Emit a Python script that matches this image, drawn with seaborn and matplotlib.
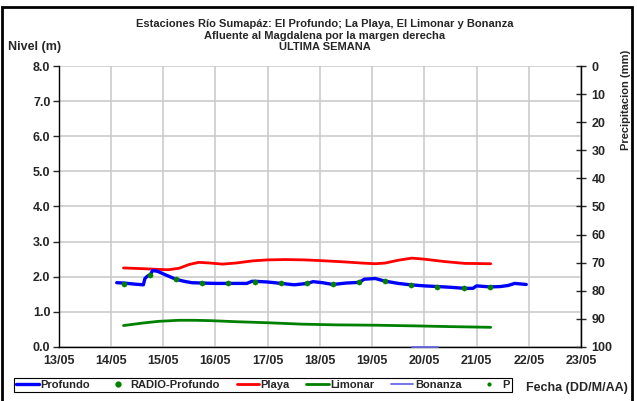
import numpy as np
import pandas as pd
import seaborn as sns
import matplotlib
matplotlib.use("Agg")
import matplotlib.pyplot as plt
from matplotlib.lines import Line2D
from matplotlib.patches import Rectangle

# Day of May (fractional) and level in metres
profundo_dia = [14.11, 14.25, 14.45, 14.62, 14.65, 14.70, 14.75, 14.80, 14.90, 15.05,
                15.24, 15.40, 15.55, 15.75, 16.00, 16.25, 16.40, 16.60, 16.70, 16.76,
                17.00, 17.26, 17.51, 17.76, 17.87, 18.05, 18.25, 18.50, 18.75, 18.85,
                19.06, 19.23, 19.50, 19.73, 20.00, 20.26, 20.50, 20.77, 20.93, 21.00,
                21.26, 21.45, 21.60, 21.73, 21.95]
profundo_nivel = [1.83, 1.82, 1.79, 1.77, 1.95, 2.02, 2.05, 2.18, 2.15, 2.05,
                  1.93, 1.87, 1.83, 1.82, 1.81, 1.81, 1.81, 1.81, 1.87, 1.87,
                  1.85, 1.81, 1.77, 1.81, 1.86, 1.83, 1.78, 1.82, 1.84, 1.93,
                  1.95, 1.88, 1.81, 1.77, 1.74, 1.72, 1.70, 1.67, 1.67, 1.74,
                  1.71, 1.72, 1.75, 1.81, 1.78]

radio_dia = [14.25, 14.75, 15.25, 15.75, 16.25, 16.75, 17.25, 17.75,
             18.25, 18.75, 19.25, 19.75, 20.25, 20.75, 21.25]
radio_nivel = [1.80, 2.05, 1.93, 1.82, 1.81, 1.86, 1.81, 1.81,
               1.78, 1.84, 1.88, 1.77, 1.72, 1.67, 1.71]

playa_dia = [14.24, 14.60, 14.90, 15.10, 15.30, 15.50, 15.68, 15.90, 16.13, 16.39,
             16.70, 17.00, 17.34, 17.70, 18.00, 18.50, 18.80, 19.06, 19.25, 19.50,
             19.76, 20.00, 20.40, 20.77, 21.27]
playa_nivel = [2.25, 2.23, 2.21, 2.20, 2.24, 2.35, 2.41, 2.39, 2.36, 2.39,
               2.45, 2.48, 2.49, 2.48, 2.46, 2.42, 2.39, 2.37, 2.39, 2.47,
               2.53, 2.50, 2.43, 2.38, 2.37]

limonar_dia = [14.24, 14.60, 14.91, 15.30, 15.60, 15.90, 16.39, 17.00, 17.66,
               18.30, 19.06, 19.85, 20.50, 21.27]
limonar_nivel = [0.61, 0.68, 0.73, 0.76, 0.76, 0.75, 0.72, 0.69, 0.65,
                 0.63, 0.62, 0.60, 0.58, 0.56]

bonanza_dia = [19.77, 20.27]
bonanza_nivel = [0.0, 0.0]

fechas_ticks = [13, 14, 15, 16, 17, 18, 19, 20, 21, 22, 23]
nivel_ticks = [0, 1, 2, 3, 4, 5, 6, 7, 8]
precip_ticks = [0, 10, 20, 30, 40, 50, 60, 70, 80, 90, 100]


def to_df(dias, niveles):
    t = pd.Timestamp("2023-05-01") + pd.to_timedelta(np.array(dias) - 1, unit="D")
    return pd.DataFrame({"fecha": t, "nivel": niveles})


sns.set_style("white")
plt.rcParams["font.family"] = ["Liberation Sans", "DejaVu Sans"]
plt.rcParams["font.weight"] = "bold"

fig = plt.figure(figsize=(6.37, 4.01), dpi=100)
ax = fig.add_axes([0.0922, 0.1347, 0.820, 0.7007])

blue = "#0000ff"
red = "#ff0000"
green = "#008000"
lav = "#6a6ae6"

sns.lineplot(data=to_df(profundo_dia, profundo_nivel), x="fecha", y="nivel",
             ax=ax, color=blue, lw=2.4, zorder=4)
sns.lineplot(data=to_df(playa_dia, playa_nivel), x="fecha", y="nivel",
             ax=ax, color=red, lw=2.0, zorder=3)
sns.lineplot(data=to_df(limonar_dia, limonar_nivel), x="fecha", y="nivel",
             ax=ax, color=green, lw=2.0, zorder=3)
sns.lineplot(data=to_df(bonanza_dia, bonanza_nivel), x="fecha", y="nivel",
             ax=ax, color=lav, lw=1.3, zorder=3, clip_on=False)
sns.scatterplot(data=to_df(radio_dia, radio_nivel), x="fecha", y="nivel",
                ax=ax, color=green, s=14, edgecolor=green, zorder=5)

tick_dates = [pd.Timestamp(2023, 5, d) for d in fechas_ticks]
ax.set_xlim(tick_dates[0], tick_dates[-1])
ax.set_xticks(tick_dates)
ax.set_xticklabels([f"{d:02d}/05" for d in fechas_ticks])
ax.set_ylim(0, 8)
ax.set_yticks(nivel_ticks)
ax.set_yticklabels([f"{v:.1f}" for v in nivel_ticks])
ax.set_xlabel("")
ax.set_ylabel("")
ax.grid(True, color="#c8c8c8", lw=1.1)
ax.tick_params(axis="y", direction="out", length=4, width=1, pad=2, labelsize=9)
ax.tick_params(axis="x", direction="inout", length=6, width=1, pad=3, labelsize=9)
for side in ["left", "bottom", "right"]:
    ax.spines[side].set_color("black")
    ax.spines[side].set_linewidth(1)
ax.spines["top"].set_visible(False)

ax2 = ax.twinx()
ax2.set_ylim(100, 0)
ax2.set_yticks(precip_ticks)
ax2.tick_params(axis="y", direction="inout", length=7, width=1, pad=4, labelsize=9)
ax2.spines["top"].set_visible(False)
ax2.spines["left"].set_visible(False)
ax2.spines["bottom"].set_visible(False)
ax2.spines["right"].set_color("black")

W, H = 637, 401
fig.text(325 / W, 1 - 24 / H, "Estaciones Río Sumapáz: El Profundo; La Playa, El Limonar y Bonanza",
         ha="center", va="center", fontsize=8, fontweight="bold")
fig.text(325 / W, 1 - 36 / H, "Afluente al Magdalena por la margen derecha",
         ha="center", va="center", fontsize=8, fontweight="bold")
fig.text(325 / W, 1 - 47 / H, "ULTIMA SEMANA",
         ha="center", va="center", fontsize=8, fontweight="bold")
fig.text(8 / W, 1 - 47 / H, "Nivel (m)", ha="left", va="center", fontsize=9, fontweight="bold")
fig.text(577 / W, 1 - 388 / H, "Fecha (DD/M/AA)", ha="center", va="center",
         fontsize=9, fontweight="bold")
fig.text(626 / W, 1 - 100 / H, "Precipitacion (mm)", ha="center", va="center",
         rotation=90, fontsize=8, fontweight="bold")

handles = [
    Line2D([], [], color=blue, lw=2.4),
    Line2D([], [], color=green, marker="o", ms=3.5, lw=0),
    Line2D([], [], color=red, lw=2.0),
    Line2D([], [], color=green, lw=2.0),
    Line2D([], [], color=lav, lw=1.3),
    Line2D([], [], color=green, marker="o", ms=2, lw=0),
]
labels = ["Profundo", "RADIO-Profundo", "Playa", "Limonar", "Bonanza", "P"]
leg = fig.legend(handles, labels, ncol=6, loc="center",
                 bbox_to_anchor=(263 / W, 1 - 385 / H), fontsize=8,
                 frameon=True, fancybox=False, edgecolor="black", framealpha=1,
                 handlelength=2.0, handletextpad=0.15, columnspacing=1.5,
                 borderpad=0.2, shadow=False)
leg.get_frame().set_linewidth(0.8)

fig.add_artist(Rectangle((2 / W, -0.02), 630 / W, 1 - 7 / H + 0.02,
                         transform=fig.transFigure, fill=False, lw=2, color="black"))

fig.savefig("out.png", dpi=100)
